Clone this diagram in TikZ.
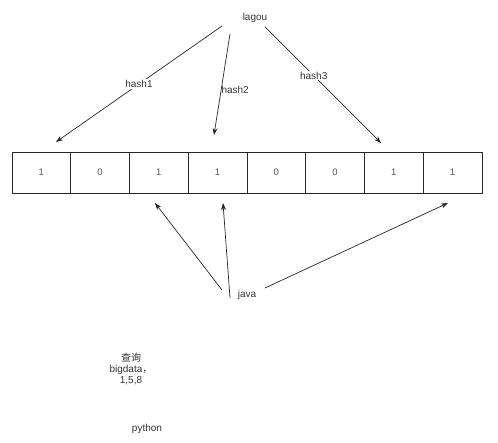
\documentclass[tikz,border=0pt]{standalone}
\usepackage{fontspec}
\setmainfont{Liberation Sans}
\newfontfamily\cjk{Noto Sans CJK SC}
\definecolor{textGray}{HTML}{333333}
\definecolor{digitGray}{HTML}{555555}
\usetikzlibrary{positioning, arrows.meta, calc}

\begin{document}
\begin{tikzpicture}[
        x=1pt, y=-1pt,
        word/.style={font=\fontsize{10}{11}\selectfont, text=textGray, inner sep=1pt, align=center},
        cell/.style={draw=black!85, line width=0.8pt, outer sep=0pt, minimum width=58.75pt, minimum height=41pt, inner sep=0pt, font=\fontsize{9.5}{11}\selectfont, text=digitGray},
        link/.style={-{Stealth[length=7pt, width=5pt]}, black!85, line width=0.7pt},
        tag/.style={font=\fontsize{10}{11}\selectfont, text=textGray, fill=white, inner sep=1pt}
      ]
        \useasboundingbox (0,0) rectangle (498,443);

        % Bit array
        \node[cell, anchor=north west] (c1) at (12,152) {1};
        \node[cell, right=0pt of c1] (c2) {0};
        \node[cell, right=0pt of c2] (c3) {1};
        \node[cell, right=0pt of c3] (c4) {1};
        \node[cell, right=0pt of c4] (c5) {0};
        \node[cell, right=0pt of c5] (c6) {0};
        \node[cell, right=0pt of c6] (c7) {1};
        \node[cell, right=0pt of c7] (c8) {1};

        % Words
        \node[word] (lagou) at (255,18) {lagou};
        \node[word] (java) at (247,295) {java};
        \node[word] (query) at (131,369) {{\cjk 查询}\\bigdata{\cjk ，}\\1,5,8};
        \node[word] (python) at (147,429) {python};

        % Free ends of the arrows
        \coordinate (h1s) at (222,26);
        \coordinate (h1e) at (56,142);
        \coordinate (h2s) at (230,34);
        \coordinate (h2e) at (214,135);
        \coordinate (h3s) at (265,27);
        \coordinate (h3e) at (381,143);
        \coordinate (j1s) at (222,290);
        \coordinate (j1e) at (155,203);
        \coordinate (j2s) at (230,298);
        \coordinate (j2e) at (223,203);
        \coordinate (j3s) at (265,288);
        \coordinate (j3e) at (448,203);

        % Hashing lagou
        \draw[link] (h1s) -- node[tag, pos=0.5] {hash1} (h1e);
        \draw[link] (h2s) -- node[tag, pos=0.55, anchor=west, fill=none, xshift=-1pt] {hash2} (h2e);
        \draw[link] (h3s) -- node[tag, pos=0.42] {hash3} (h3e);

        % Hashing java
        \draw[link] (j1s) -- (j1e);
        \draw[link] (j2s) -- (j2e);
        \draw[link] (j3s) -- (j3e);
      \end{tikzpicture}
\end{document}
